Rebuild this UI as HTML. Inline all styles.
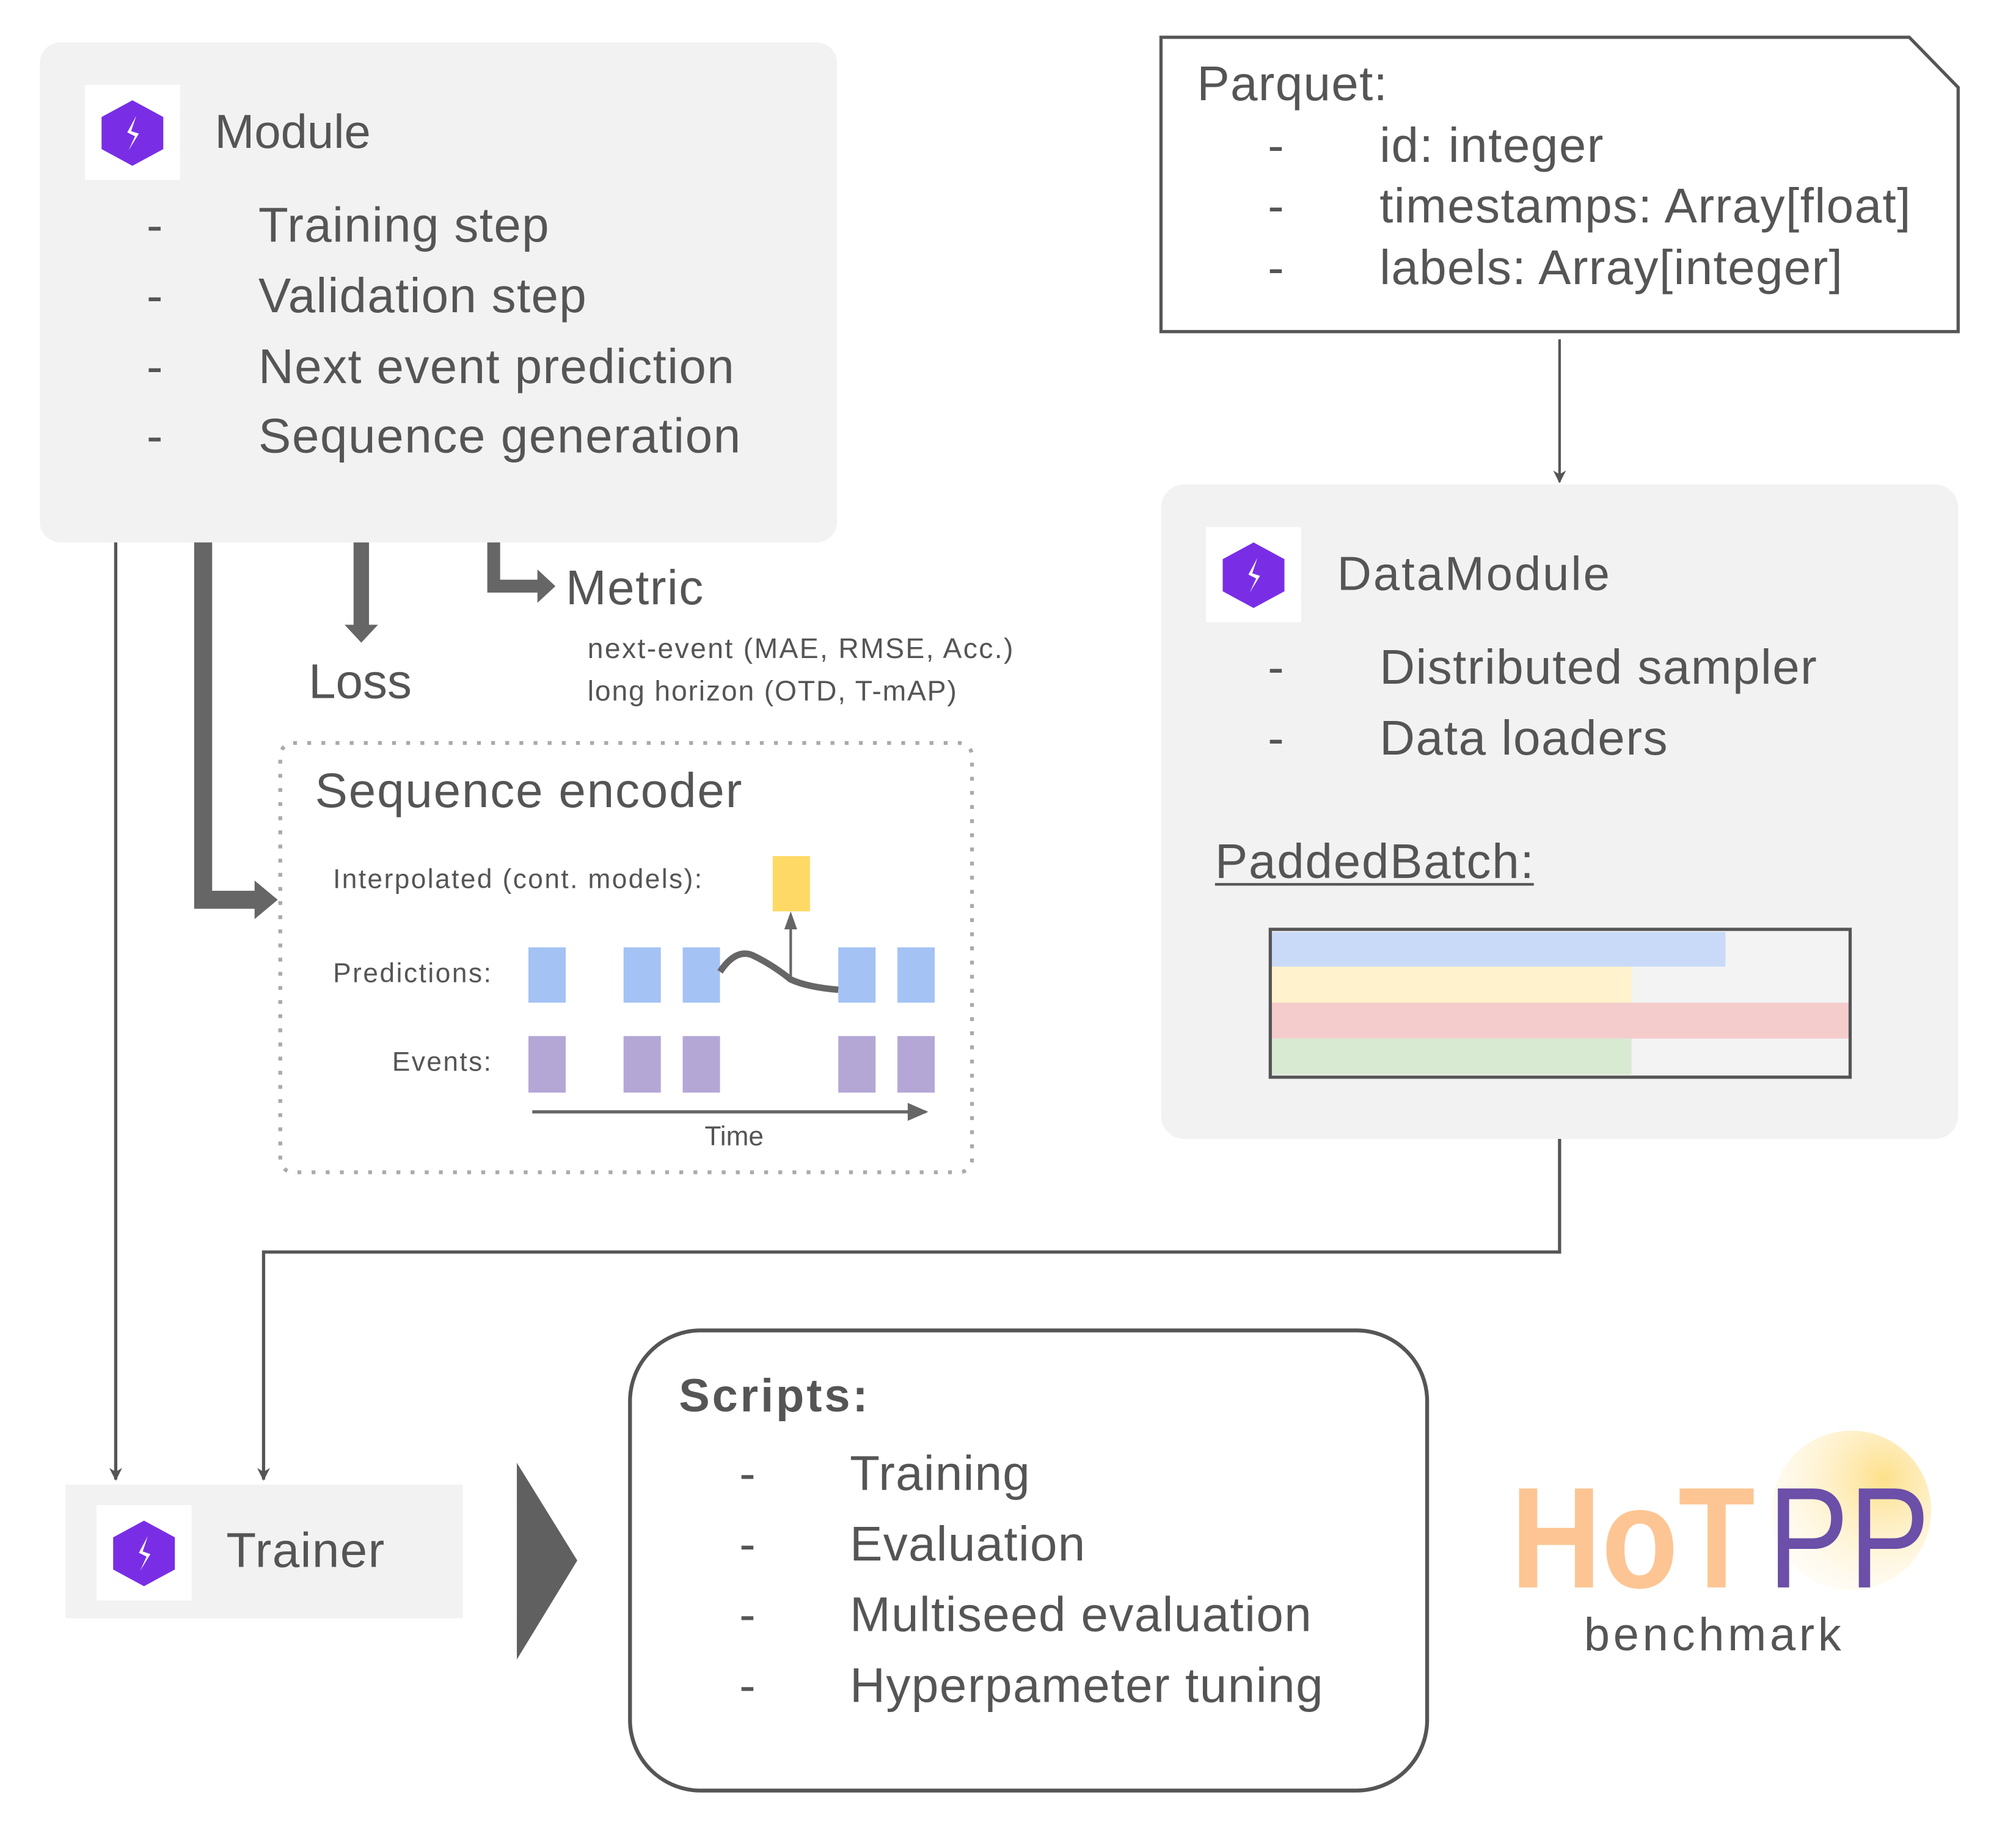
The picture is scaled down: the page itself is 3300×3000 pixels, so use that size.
<!DOCTYPE html>
<html><head><meta charset="utf-8"><style>
html,body{margin:0;padding:0;background:#fff;}
svg{display:block;}
text{font-family:"Liberation Sans",sans-serif;fill:#555;}
</style></head><body>
<svg width="3300" height="3000" viewBox="0 0 1568 1426" preserveAspectRatio="none" xmlns="http://www.w3.org/2000/svg">
<defs>
<radialGradient id="sun" cx="0.7" cy="0.3" r="0.8">
<stop offset="0" stop-color="#fde08a"/><stop offset="1" stop-color="#fff8e8" stop-opacity="0.3"/>
</radialGradient>
<g id="icon">
<rect x="0" y="0" width="74" height="74" fill="#fff"/>
<polygon points="37,12 61,25 61,50 37,63 13,50 13,25" fill="#792ee5"/>
<polygon points="40,24 33,37 39,40 34,51 42,38 36,36" fill="#fff"/>
</g>
<marker id="ah" markerWidth="10" markerHeight="10" refX="9" refY="5" orient="auto" markerUnits="userSpaceOnUse"><path d="M0,0 L10,5 L0,10 L3,5 Z" fill="#555"/></marker>
</defs>

<!-- Module -->
<rect x="31" y="33" width="620" height="389" rx="16" fill="#f2f2f2"/>
<use href="#icon" x="66" y="66"/>
<text x="167" y="115" font-size="37">Module</text>
<g font-size="38">
<text x="114" y="188">-</text><text x="201" y="188" textLength="226">Training step</text>
<text x="114" y="243">-</text><text x="201" y="243" textLength="255">Validation step</text>
<text x="114" y="298">-</text><text x="201" y="298" textLength="370">Next event prediction</text>
<text x="114" y="352">-</text><text x="201" y="352" textLength="375">Sequence generation</text>
</g>

<!-- Parquet -->
<path d="M903,29 L1485,29 L1523,68 L1523,258 L903,258 Z" fill="#fff" stroke="#555" stroke-width="2.5"/>
<g font-size="38">
<text x="931" y="78" textLength="148">Parquet:</text>
<text x="986" y="126">-</text><text x="1073" y="126" textLength="174">id: integer</text>
<text x="986" y="173">-</text><text x="1073" y="173" textLength="413">timestamps: Array[float]</text>
<text x="986" y="221">-</text><text x="1073" y="221" textLength="360">labels: Array[integer]</text>
</g>
<line x1="1213" y1="264" x2="1213" y2="375" stroke="#555" stroke-width="2" marker-end="url(#ah)"/>

<!-- DataModule -->
<rect x="903" y="377" width="620" height="509" rx="18" fill="#f2f2f2"/>
<use href="#icon" x="938" y="410"/>
<text x="1040" y="459" font-size="37" textLength="212">DataModule</text>
<g font-size="38">
<text x="986" y="532">-</text><text x="1073" y="532" textLength="340">Distributed sampler</text>
<text x="986" y="587">-</text><text x="1073" y="587" textLength="224">Data loaders</text>
<text x="945" y="683" textLength="248">PaddedBatch:</text>
</g>
<line x1="945" y1="688" x2="1193" y2="688" stroke="#555" stroke-width="2"/>
<rect x="988" y="723" width="451" height="115" fill="#f3f3f3"/>
<rect x="989" y="725" width="353" height="27" fill="#c9daf8"/>
<rect x="989" y="752" width="280" height="28" fill="#fff2cc"/>
<rect x="989" y="780" width="449" height="28" fill="#f4cccc"/>
<rect x="989" y="808" width="280" height="28" fill="#d9ead3"/>
<rect x="988" y="723" width="451" height="115" fill="none" stroke="#555" stroke-width="2.5"/>

<!-- connectors -->
<polyline points="1213,886 1213,974 205,974 205,1151" fill="none" stroke="#555" stroke-width="2.5" marker-end="url(#ah)"/>
<line x1="90" y1="422" x2="90" y2="1151" stroke="#555" stroke-width="2.5" marker-end="url(#ah)"/>

<!-- thick arrows -->
<polyline points="158,422 158,700 200,700" fill="none" stroke="#666" stroke-width="14"/>
<polygon points="198,685 216,700 198,715" fill="#666"/>
<line x1="281" y1="422" x2="281" y2="488" stroke="#666" stroke-width="12"/>
<polygon points="268,486 294,486 281,500" fill="#666"/>
<polyline points="384,422 384,456 420,456" fill="none" stroke="#666" stroke-width="10"/>
<polygon points="418,443 432,456 418,469" fill="#666"/>
<text x="240" y="543" font-size="38">Loss</text>
<text x="440" y="470" font-size="38" textLength="107">Metric</text>
<text x="457" y="512" font-size="22" textLength="331">next-event (MAE, RMSE,  Acc.)</text>
<text x="457" y="545" font-size="22" textLength="287">long horizon (OTD, T-mAP)</text>

<!-- Sequence encoder -->
<rect x="218" y="578" width="538" height="334" rx="10" fill="none" stroke="#aaa" stroke-width="3" stroke-dasharray="3,8"/>
<text x="245" y="628" font-size="38" textLength="332">Sequence encoder</text>
<text x="259" y="691" font-size="21" textLength="287">Interpolated (cont. models):</text>
<text x="259" y="764" font-size="21" textLength="123">Predictions:</text>
<text x="305" y="833" font-size="21" textLength="77">Events:</text>
<g fill="#a4c2f4">
<rect x="411" y="737" width="29" height="43"/><rect x="485" y="737" width="29" height="43"/><rect x="531" y="737" width="29" height="43"/><rect x="652" y="737" width="29" height="43"/><rect x="698" y="737" width="29" height="43"/>
</g>
<g fill="#b4a7d6">
<rect x="411" y="806" width="29" height="44"/><rect x="485" y="806" width="29" height="44"/><rect x="531" y="806" width="29" height="44"/><rect x="652" y="806" width="29" height="44"/><rect x="698" y="806" width="29" height="44"/>
</g>
<rect x="601" y="666" width="29" height="43" fill="#ffd966"/>
<path d="M560,756 Q572,738 585,743 Q600,750 615,762 Q628,768 652,770" fill="none" stroke="#666" stroke-width="5"/>
<line x1="615" y1="761" x2="615" y2="712" stroke="#666" stroke-width="2"/>
<polygon points="610,723 615,709 620,723" fill="#666"/>
<line x1="414" y1="865" x2="720" y2="865" stroke="#666" stroke-width="2.5"/>
<polygon points="706,858 722,865 706,872" fill="#666"/>
<text x="571" y="891" font-size="21" text-anchor="middle">Time</text>

<!-- Trainer -->
<rect x="51" y="1155" width="309" height="104" fill="#f2f2f2"/>
<use href="#icon" x="75" y="1171"/>
<text x="176" y="1219" font-size="38" textLength="123">Trainer</text>
<polygon points="402,1138 449,1214 402,1291" fill="#606060"/>

<!-- Scripts -->
<rect x="490" y="1035" width="620" height="358" rx="55" fill="#fff" stroke="#555" stroke-width="3"/>
<text x="528" y="1098" font-size="36" font-weight="bold" textLength="147">Scripts:</text>
<g font-size="38">
<text x="575" y="1159">-</text><text x="661" y="1159" textLength="140">Training</text>
<text x="575" y="1214">-</text><text x="661" y="1214" textLength="183">Evaluation</text>
<text x="575" y="1269">-</text><text x="661" y="1269" textLength="359">Multiseed evaluation</text>
<text x="575" y="1324">-</text><text x="661" y="1324" textLength="368">Hyperpameter tuning</text>
</g>

<!-- HoTPP logo -->
<circle cx="1440" cy="1175" r="62" fill="url(#sun)"/>
<text x="1175" y="1235" font-size="112" font-weight="bold" style="fill:#fdc593" textLength="190" lengthAdjust="spacingAndGlyphs">HoT</text>
<text x="1375" y="1235" font-size="112" style="fill:#6b4fa8" textLength="126" lengthAdjust="spacingAndGlyphs">PP</text>
<text x="1232" y="1284" font-size="36" style="fill:#555" textLength="200">benchmark</text>
</svg>
</body></html>
